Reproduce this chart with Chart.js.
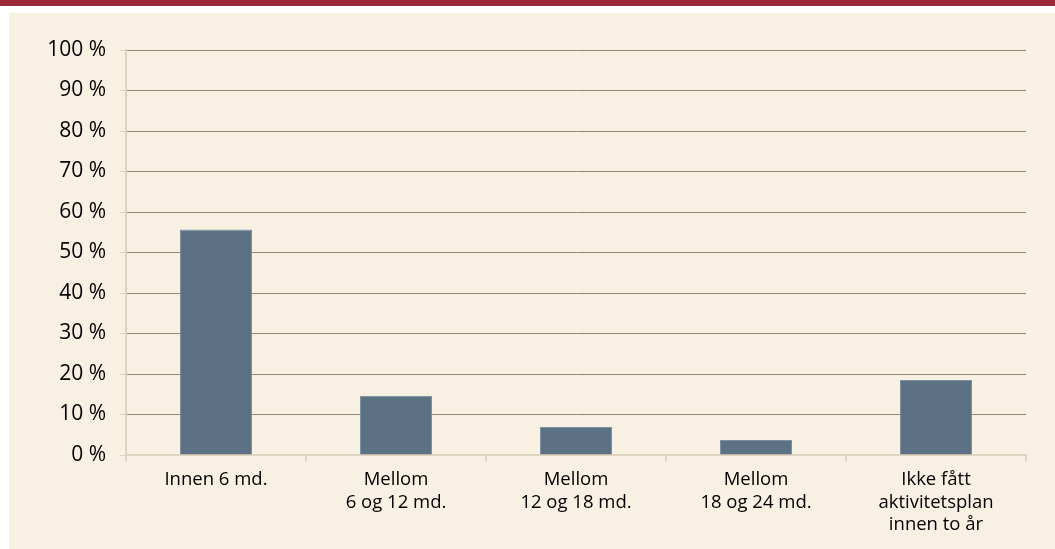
<!DOCTYPE html>
<html>
<head>
<meta charset="utf-8">
<script src="https://cdn.jsdelivr.net/npm/chart.js@4"></script>
<style>
  html, body { margin: 0; padding: 0; background: #ffffff; }
  #band { position: absolute; left: 0; top: 0; width: 1055px; height: 6px; background: #9C2936; }
  #panel { position: absolute; left: 9px; top: 13px; width: 1046px; height: 536px; background: #F8F0E2; }
  #wrap { position: absolute; left: 0; top: 0; width: 1055px; height: 549px; }
</style>
</head>
<body>
<div id="band"></div>
<div id="panel"></div>
<div id="wrap"><canvas id="chart"></canvas></div>
<script>
// Categories and shares
const categories = [
  'Innen 6 md.',
  ['Mellom', '6 og 12 md.'],
  ['Mellom', '12 og 18 md.'],
  ['Mellom', '18 og 24 md.'],
  ['Ikke fått', 'aktivitetsplan', 'innen to år'],
];
const shares = [55.7, 14.6, 6.9, 3.7, 18.5];

const AXIS_TAN = '#DDD3BE';
const GRID = '#978672';
const FONT_FAMILY = "'Open Sans', 'DejaVu Sans', sans-serif";

new Chart(document.getElementById('chart').getContext('2d'), {
  type: 'bar',
  data: {
    labels: categories,
    datasets: [{
      data: shares,
      backgroundColor: '#5D7185',
      borderColor: '#7D8FA0',
      borderWidth: 1,
      barPercentage: 0.4,
      categoryPercentage: 1,
    }],
  },
  options: {
    responsive: true,
    maintainAspectRatio: false,
    animation: false,
    layout: { padding: { left: 0, right: 29, top: 50, bottom: 0 } },
    plugins: { legend: { display: false }, tooltip: { enabled: false } },
    scales: {
      x: {
        grid: { drawOnChartArea: false, drawTicks: true, tickLength: 6, tickColor: AXIS_TAN, lineWidth: 2 },
        border: { color: AXIS_TAN, width: 2 },
        ticks: {
          color: '#000000',
          font: { family: FONT_FAMILY, size: 18.5, lineHeight: 1.2 },
          padding: 8,
          maxRotation: 0,
          autoSkip: false,
        },
        afterFit: (s) => { s.height = 549 - 455; },
      },
      y: {
        min: 0,
        max: 100,
        grid: {
          color: (c) => (c.tick && c.tick.value === 0 ? 'rgba(0,0,0,0)' : GRID),
          lineWidth: 1,
          drawTicks: true,
          tickLength: 6,
          tickColor: AXIS_TAN,
        },
        border: { color: AXIS_TAN, width: 2 },
        ticks: {
          stepSize: 10,
          color: '#000000',
          font: { family: FONT_FAMILY, size: 21 },
          padding: 14,
          callback: (v) => v + ' %',
        },
        afterFit: (s) => { s.width = 126; },
      },
    },
  },
});
</script>
</body>
</html>
